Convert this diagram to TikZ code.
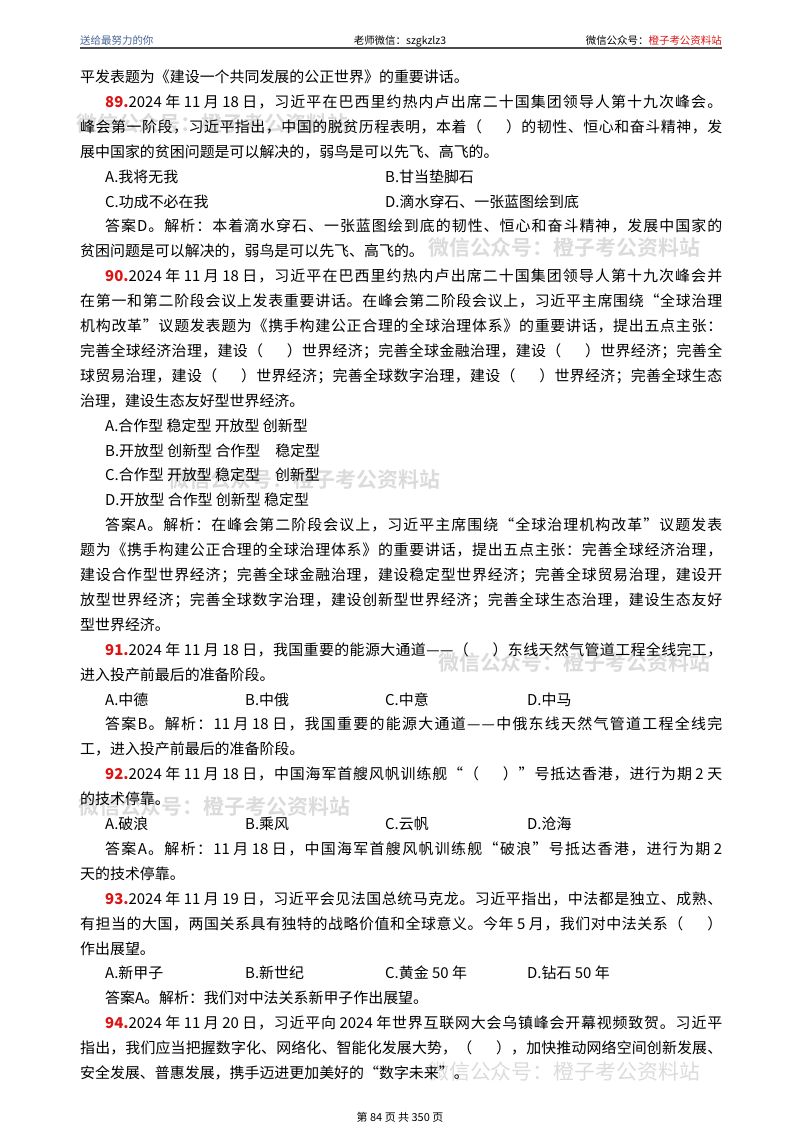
\documentclass[tikz,border=0pt]{standalone}
\usepackage{fontspec}
\setmainfont{Noto Sans CJK SC}
\newfontfamily\wmfont{Noto Sans CJK SC Bold}
\newXeTeXintercharclass\cjkcls
\newcount\mycc
\mycc="4E00 \loop \XeTeXcharclass\mycc=\cjkcls \advance\mycc by 1 \ifnum\mycc<"A000 \repeat
\mycc="3000 \loop \XeTeXcharclass\mycc=\cjkcls \advance\mycc by 1 \ifnum\mycc<"3040 \repeat
\mycc="FF00 \loop \XeTeXcharclass\mycc=\cjkcls \advance\mycc by 1 \ifnum\mycc<"FF60 \repeat
\XeTeXcharclass"2014=\cjkcls \XeTeXcharclass"201C=\cjkcls \XeTeXcharclass"201D=\cjkcls
\XeTeXinterchartoks \cjkcls \cjkcls = {\hskip0pt plus 2pt\relax}
\XeTeXinterchartoks 0 \cjkcls = {\hskip0pt plus 2pt\relax}
\XeTeXinterchartoks \cjkcls 0 = {\hskip0pt plus 2pt\relax}
\definecolor{hdrblue}{RGB}{70,100,150}
\definecolor{qred}{RGB}{220,20,20}
\newskip\myspc \myspc=3.5bp
\newcommand\yk[1]{\fpeval{77+24.9*#1+5.5}}
\newcommand\FL[2]{\node[txt] at (80,\yk{#1}) {\hbox to 642bp{\spaceskip\myspc\XeTeXinterchartokenstate=1 #2}};}
\newcommand\IL[2]{\node[txt] at (105,\yk{#1}) {\hbox to 617bp{\spaceskip\myspc\XeTeXinterchartokenstate=1 #2}};}
\newcommand\EL[2]{\node[txt] at (80,\yk{#1}) {#2};}
\newcommand\EI[2]{\node[txt] at (105,\yk{#1}) {#2};}
\newcommand\OP[3]{\node[txt] at (#1,\yk{#2}) {#3};}
\newcommand\QN[1]{{\color{qred}\bfseries #1}}
\newcommand\bk{（\hspace{1.6em}）}
\begin{document}
\begin{tikzpicture}[x=1bp,y=-1bp,
  txt/.style={anchor=base west,inner sep=0pt,font=\fontsize{15}{18}\selectfont},
  hdr/.style={anchor=base,inner sep=0pt,font=\fontsize{10.5}{12}\selectfont},
  wm/.style={anchor=base west,inner sep=0pt,text=black!14,font=\wmfont\fontsize{21}{24}\selectfont}]
\useasboundingbox (0,0) rectangle (800,1132);
% header
\node[hdr,anchor=base west,text=hdrblue] (h1) at (80,44) {送给最努力的你};
\node[hdr] (h2) at (400,44) {老师微信：szgkzlz3};
\node[hdr,anchor=base east] (h3) at (722,44) {微信公众号：\textcolor{qred}{橙子考公资料站}};
\draw[black!70,line width=1.2pt] (80,48) -- (722,48);
% watermarks
\node[wm] at (76,131) {微信公众号：橙子考公资料站};
\node[wm] at (428,255) {微信公众号：橙子考公资料站};
\node[wm] at (168,487) {微信公众号：橙子考公资料站};
\node[wm] at (438,670) {微信公众号：橙子考公资料站};
\node[wm] at (78,814) {微信公众号：橙子考公资料站};
\node[wm,font=\fontsize{21}{24}\selectfont] at (428,1079) {微信公众号：橙子考公资料站};
% body
\EL{0}{平发表题为《建设一个共同发展的公正世界》的重要讲话。}
\IL{1}{\QN{89.}2024 年 11 月 18 日，习近平在巴西里约热内卢出席二十国集团领导人第十九次峰会。}
\FL{2}{峰会第一阶段，习近平指出，中国的脱贫历程表明，本着\bk 的韧性、恒心和奋斗精神，发}
\EL{3}{展中国家的贫困问题是可以解决的，弱鸟是可以先飞、高飞的。}
\OP{105}{4}{A.我将无我}\OP{385}{4}{B.甘当垫脚石}
\OP{105}{5}{C.功成不必在我}\OP{385}{5}{D.滴水穿石、一张蓝图绘到底}
\IL{6}{答案D。解析：本着滴水穿石、一张蓝图绘到底的韧性、恒心和奋斗精神，发展中国家的}
\EL{7}{贫困问题是可以解决的，弱鸟是可以先飞、高飞的。}
\IL{8}{\QN{90.}2024 年 11 月 18 日，习近平在巴西里约热内卢出席二十国集团领导人第十九次峰会并}
\FL{9}{在第一和第二阶段会议上发表重要讲话。在峰会第二阶段会议上，习近平主席围绕“全球治理}
\FL{10}{机构改革”议题发表题为《携手构建公正合理的全球治理体系》的重要讲话，提出五点主张：}
\FL{11}{完善全球经济治理，建设\bk 世界经济；完善全球金融治理，建设\bk 世界经济；完善全}
\FL{12}{球贸易治理，建设\bk 世界经济；完善全球数字治理，建设\bk 世界经济；完善全球生态}
\EL{13}{治理，建设生态友好型世界经济。}
\EI{14}{A.合作型 稳定型 开放型 创新型}
\EI{15}{B.开放型 创新型 合作型\hspace{1em}稳定型}
\EI{16}{C.合作型 开放型 稳定型\hspace{1em}创新型}
\EI{17}{D.开放型 合作型 创新型 稳定型}
\IL{18}{答案A。解析：在峰会第二阶段会议上，习近平主席围绕“全球治理机构改革”议题发表}
\FL{19}{题为《携手构建公正合理的全球治理体系》的重要讲话，提出五点主张：完善全球经济治理，}
\FL{20}{建设合作型世界经济；完善全球金融治理，建设稳定型世界经济；完善全球贸易治理，建设开}
\FL{21}{放型世界经济；完善全球数字治理，建设创新型世界经济；完善全球生态治理，建设生态友好}
\EL{22}{型世界经济。}
\IL{23}{\QN{91.}2024 年 11 月 18 日，我国重要的能源大通道——\bk 东线天然气管道工程全线完工，}
\EL{24}{进入投产前最后的准备阶段。}
\OP{105}{25}{A.中德}\OP{245}{25}{B.中俄}\OP{385}{25}{C.中意}\OP{527}{25}{D.中马}
\IL{26}{答案B。解析：11 月 18 日，我国重要的能源大通道——中俄东线天然气管道工程全线完}
\EL{27}{工，进入投产前最后的准备阶段。}
\IL{28}{\QN{92.}2024 年 11 月 18 日，中国海军首艘风帆训练舰“\bk ”号抵达香港，进行为期 2 天}
\EL{29}{的技术停靠。}
\OP{105}{30}{A.破浪}\OP{245}{30}{B.乘风}\OP{385}{30}{C.云帆}\OP{527}{30}{D.沧海}
\IL{31}{答案A。解析：11 月 18 日，中国海军首艘风帆训练舰“破浪”号抵达香港，进行为期 2}
\EL{32}{天的技术停靠。}
\IL{33}{\QN{93.}2024 年 11 月 19 日，习近平会见法国总统马克龙。习近平指出，中法都是独立、成熟、}
\FL{34}{有担当的大国，两国关系具有独特的战略价值和全球意义。今年 5 月，我们对中法关系\bk}
\EL{35}{作出展望。}
\OP{105}{36}{A.新甲子}\OP{245}{36}{B.新世纪}\OP{385}{36}{C.黄金 50 年}\OP{527}{36}{D.钻石 50 年}
\EI{37}{答案A。解析：我们对中法关系新甲子作出展望。}
\IL{38}{\QN{94.}2024 年 11 月 20 日，习近平向 2024 年世界互联网大会乌镇峰会开幕视频致贺。习近平}
\FL{39}{指出，我们应当把握数字化、网络化、智能化发展大势，\bk ，加快推动网络空间创新发展、}
\EL{40}{安全发展、普惠发展，携手迈进更加美好的“数字未来”。}
% footer
\node[hdr,font=\fontsize{11}{13}\selectfont] (ft) at (400,1121) {第 84 页 共 350 页};
\end{tikzpicture}
\end{document}
